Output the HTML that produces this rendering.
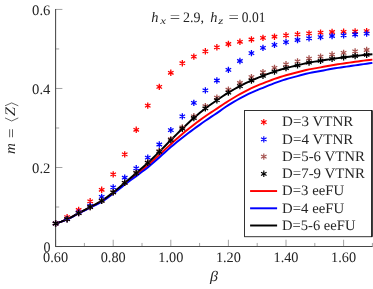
<!DOCTYPE html>
<html><head><meta charset="utf-8"><title>plot</title>
<style>
html,body{margin:0;padding:0;background:#fff;}
svg{display:block;font-family:"Liberation Serif",serif;font-size:14.5px;fill:#242424;text-rendering:geometricPrecision;}
</style></head><body>
<svg width="373" height="289" viewBox="0 0 373 289">
<rect width="373" height="289" fill="#fff"/>
<g stroke="#8c8c8c" stroke-width="0.8" fill="none">
<path d="M55.60 246.55v-6.8"/><path d="M84.40 246.55v-3.6"/><path d="M113.20 246.55v-6.8"/><path d="M142.00 246.55v-3.6"/><path d="M170.80 246.55v-6.8"/><path d="M199.60 246.55v-3.6"/><path d="M228.40 246.55v-6.8"/><path d="M257.20 246.55v-3.6"/><path d="M286.00 246.55v-6.8"/><path d="M314.80 246.55v-3.6"/><path d="M343.60 246.55v-6.8"/><path d="M372.40 246.55v-3.6"/><path d="M55.60 246.55h6.8"/><path d="M55.60 207.03h3.6"/><path d="M55.60 167.51h6.8"/><path d="M55.60 127.99h3.6"/><path d="M55.60 88.47h6.8"/><path d="M55.60 48.95h3.6"/><path d="M55.60 9.43h6.8"/>
</g>
<path d="M55.6 9.1V246.55H372.6" stroke="#484848" stroke-width="1.05" fill="none"/>
<g fill="none" stroke-width="1.95" stroke-linejoin="round">
<path d="M55.60 223.50 L58.48 222.60 L61.36 221.58 L64.24 220.47 L67.12 219.27 L70.00 217.91 L72.88 216.40 L75.76 214.82 L78.64 213.27 L81.52 211.78 L84.40 210.29 L87.28 208.80 L90.16 207.30 L93.04 205.84 L95.92 204.40 L98.80 202.91 L101.68 201.27 L104.56 199.43 L107.44 197.41 L110.32 195.28 L113.20 193.10 L116.08 190.85 L118.96 188.51 L121.84 186.14 L124.72 183.80 L127.60 181.53 L130.48 179.30 L133.36 177.07 L136.24 174.80 L139.12 172.50 L142.00 170.19 L144.88 167.84 L147.76 165.40 L150.64 162.86 L153.52 160.24 L156.40 157.57 L159.28 154.90 L162.16 152.22 L165.04 149.53 L167.92 146.84 L170.80 144.20 L173.68 141.59 L176.56 139.01 L179.44 136.47 L182.32 134.00 L185.20 131.59 L188.08 129.24 L190.96 126.95 L193.84 124.70 L196.72 122.50 L199.60 120.35 L202.48 118.25 L205.36 116.20 L208.24 114.25 L211.12 112.38 L214.00 110.52 L216.88 108.60 L219.76 106.63 L222.64 104.69 L225.52 102.80 L228.40 101.00 L231.28 99.23 L234.16 97.47 L237.04 95.74 L239.92 94.10 L242.80 92.53 L245.68 91.02 L248.56 89.58 L251.44 88.20 L254.32 86.90 L257.20 85.66 L260.08 84.46 L262.96 83.30 L265.84 82.16 L268.72 81.04 L271.60 79.97 L274.48 78.95 L277.36 77.98 L280.24 77.04 L283.12 76.15 L286.00 75.30 L288.88 74.51 L291.76 73.76 L294.64 73.04 L297.52 72.31 L300.40 71.55 L303.28 70.79 L306.16 70.05 L309.04 69.40 L311.92 68.84 L314.80 68.34 L317.68 67.86 L320.56 67.36 L323.44 66.81 L326.32 66.26 L329.20 65.71 L332.08 65.20 L334.96 64.74 L337.84 64.30 L340.72 63.88 L343.60 63.46 L346.48 63.04 L349.36 62.62 L352.24 62.20 L355.12 61.80 L358.00 61.41 L360.88 61.02 L363.76 60.64 L366.64 60.28 L369.52 59.93 L372.40 59.60" stroke="#ff0000"/>
<path d="M55.60 223.50 L58.48 222.62 L61.36 221.62 L64.24 220.53 L67.12 219.35 L70.00 218.02 L72.88 216.53 L75.76 214.97 L78.64 213.45 L81.52 211.99 L84.40 210.53 L87.28 209.07 L90.16 207.60 L93.04 206.17 L95.92 204.77 L98.80 203.31 L101.68 201.71 L104.56 199.91 L107.44 197.93 L110.32 195.83 L113.20 193.70 L116.08 191.50 L118.96 189.20 L121.84 186.88 L124.72 184.60 L127.60 182.42 L130.48 180.31 L133.36 178.22 L136.24 176.10 L139.12 173.97 L142.00 171.84 L144.88 169.67 L147.76 167.40 L150.64 165.00 L153.52 162.50 L156.40 159.95 L159.28 157.40 L162.16 154.83 L165.04 152.22 L167.92 149.63 L170.80 147.10 L173.68 144.66 L176.56 142.29 L179.44 139.98 L182.32 137.70 L185.20 135.47 L188.08 133.28 L190.96 131.13 L193.84 129.00 L196.72 126.91 L199.60 124.85 L202.48 122.82 L205.36 120.80 L208.24 118.83 L211.12 116.92 L214.00 115.03 L216.88 113.10 L219.76 111.08 L222.64 109.02 L225.52 107.00 L228.40 105.10 L231.28 103.32 L234.16 101.62 L237.04 99.98 L239.92 98.40 L242.80 96.87 L245.68 95.38 L248.56 93.95 L251.44 92.60 L254.32 91.33 L257.20 90.12 L260.08 88.95 L262.96 87.80 L265.84 86.64 L268.72 85.47 L271.60 84.32 L274.48 83.20 L277.36 82.13 L280.24 81.09 L283.12 80.11 L286.00 79.20 L288.88 78.37 L291.76 77.59 L294.64 76.84 L297.52 76.08 L300.40 75.31 L303.28 74.52 L306.16 73.77 L309.04 73.10 L311.92 72.53 L314.80 72.01 L317.68 71.51 L320.56 70.99 L323.44 70.44 L326.32 69.87 L329.20 69.32 L332.08 68.80 L334.96 68.33 L337.84 67.90 L340.72 67.48 L343.60 67.07 L346.48 66.65 L349.36 66.23 L352.24 65.81 L355.12 65.40 L358.00 64.98 L360.88 64.56 L363.76 64.14 L366.64 63.71 L369.52 63.30 L372.40 62.90" stroke="#0000ff"/>
<path d="M55.60 223.50 L58.48 222.59 L61.36 221.56 L64.24 220.42 L67.12 219.20 L70.00 217.82 L72.88 216.28 L75.76 214.67 L78.64 213.10 L81.52 211.58 L84.40 210.06 L87.28 208.53 L90.16 207.00 L93.04 205.50 L95.92 204.02 L98.80 202.48 L101.68 200.80 L104.56 198.90 L107.44 196.83 L110.32 194.64 L113.20 192.40 L116.08 190.09 L118.96 187.69 L121.84 185.24 L124.72 182.80 L127.60 180.39 L130.48 177.99 L133.36 175.56 L136.24 173.10 L139.12 170.61 L142.00 168.09 L144.88 165.52 L147.76 162.90 L150.64 160.20 L153.52 157.45 L156.40 154.64 L159.28 151.80 L162.16 148.91 L165.04 145.97 L167.92 143.02 L170.80 140.10 L173.68 137.21 L176.56 134.34 L179.44 131.49 L182.32 128.70 L185.20 125.95 L188.08 123.24 L190.96 120.58 L193.84 118.00 L196.72 115.49 L199.60 113.04 L202.48 110.67 L205.36 108.40 L208.24 106.24 L211.12 104.18 L214.00 102.18 L216.88 100.20 L219.76 98.23 L222.64 96.29 L225.52 94.40 L228.40 92.60 L231.28 90.88 L234.16 89.23 L237.04 87.63 L239.92 86.10 L242.80 84.62 L245.68 83.19 L248.56 81.81 L251.44 80.50 L254.32 79.25 L257.20 78.07 L260.08 76.92 L262.96 75.80 L265.84 74.70 L268.72 73.62 L271.60 72.59 L274.48 71.60 L277.36 70.66 L280.24 69.76 L283.12 68.91 L286.00 68.10 L288.88 67.35 L291.76 66.65 L294.64 65.98 L297.52 65.30 L300.40 64.59 L303.28 63.88 L306.16 63.20 L309.04 62.60 L311.92 62.10 L314.80 61.66 L317.68 61.24 L320.56 60.80 L323.44 60.32 L326.32 59.83 L329.20 59.35 L332.08 58.90 L334.96 58.50 L337.84 58.12 L340.72 57.76 L343.60 57.40 L346.48 57.04 L349.36 56.68 L352.24 56.33 L355.12 56.00 L358.00 55.68 L360.88 55.37 L363.76 55.08 L366.64 54.80 L369.52 54.54 L372.40 54.30" stroke="#000000"/>
</g>
<g fill="none" stroke-width="1.3" stroke-linecap="butt">
<path d="M55.60 220.30V226.70M52.83 221.90L58.37 225.10M52.83 225.10L58.37 221.90" stroke="#ff0000"/><path d="M67.12 213.90V220.30M64.35 215.50L69.89 218.70M64.35 218.70L69.89 215.50" stroke="#ff0000"/><path d="M78.64 206.80V213.20M75.87 208.40L81.41 211.60M75.87 211.60L81.41 208.40" stroke="#ff0000"/><path d="M90.16 198.10V204.50M87.39 199.70L92.93 202.90M87.39 202.90L92.93 199.70" stroke="#ff0000"/><path d="M101.68 186.60V193.00M98.91 188.20L104.45 191.40M98.91 191.40L104.45 188.20" stroke="#ff0000"/><path d="M113.20 171.20V177.60M110.43 172.80L115.97 176.00M110.43 176.00L115.97 172.80" stroke="#ff0000"/><path d="M124.72 151.20V157.60M121.95 152.80L127.49 156.00M121.95 156.00L127.49 152.80" stroke="#ff0000"/><path d="M136.24 126.60V133.00M133.47 128.20L139.01 131.40M133.47 131.40L139.01 128.20" stroke="#ff0000"/><path d="M147.76 102.40V108.80M144.99 104.00L150.53 107.20M144.99 107.20L150.53 104.00" stroke="#ff0000"/><path d="M159.28 83.70V90.10M156.51 85.30L162.05 88.50M156.51 88.50L162.05 85.30" stroke="#ff0000"/><path d="M170.80 69.60V76.00M168.03 71.20L173.57 74.40M168.03 74.40L173.57 71.20" stroke="#ff0000"/><path d="M182.32 60.00V66.40M179.55 61.60L185.09 64.80M179.55 64.80L185.09 61.60" stroke="#ff0000"/><path d="M193.84 53.40V59.80M191.07 55.00L196.61 58.20M191.07 58.20L196.61 55.00" stroke="#ff0000"/><path d="M205.36 48.10V54.50M202.59 49.70L208.13 52.90M202.59 52.90L208.13 49.70" stroke="#ff0000"/><path d="M216.88 44.10V50.50M214.11 45.70L219.65 48.90M214.11 48.90L219.65 45.70" stroke="#ff0000"/><path d="M228.40 40.80V47.20M225.63 42.40L231.17 45.60M225.63 45.60L231.17 42.40" stroke="#ff0000"/><path d="M239.92 38.60V45.00M237.15 40.20L242.69 43.40M237.15 43.40L242.69 40.20" stroke="#ff0000"/><path d="M251.44 36.30V42.70M248.67 37.90L254.21 41.10M248.67 41.10L254.21 37.90" stroke="#ff0000"/><path d="M262.96 34.70V41.10M260.19 36.30L265.73 39.50M260.19 39.50L265.73 36.30" stroke="#ff0000"/><path d="M274.48 33.50V39.90M271.71 35.10L277.25 38.30M271.71 38.30L277.25 35.10" stroke="#ff0000"/><path d="M286.00 32.10V38.50M283.23 33.70L288.77 36.90M283.23 36.90L288.77 33.70" stroke="#ff0000"/><path d="M297.52 31.10V37.50M294.75 32.70L300.29 35.90M294.75 35.90L300.29 32.70" stroke="#ff0000"/><path d="M309.04 30.20V36.60M306.27 31.80L311.81 35.00M306.27 35.00L311.81 31.80" stroke="#ff0000"/><path d="M320.56 29.40V35.80M317.79 31.00L323.33 34.20M317.79 34.20L323.33 31.00" stroke="#ff0000"/><path d="M332.08 28.80V35.20M329.31 30.40L334.85 33.60M329.31 33.60L334.85 30.40" stroke="#ff0000"/><path d="M343.60 28.60V35.00M340.83 30.20L346.37 33.40M340.83 33.40L346.37 30.20" stroke="#ff0000"/><path d="M355.12 28.30V34.70M352.35 29.90L357.89 33.10M352.35 33.10L357.89 29.90" stroke="#ff0000"/><path d="M366.64 27.90V34.30M363.87 29.50L369.41 32.70M363.87 32.70L369.41 29.50" stroke="#ff0000"/><path d="M55.60 220.30V226.70M52.83 221.90L58.37 225.10M52.83 225.10L58.37 221.90" stroke="#0000ff"/><path d="M67.12 215.80V222.20M64.35 217.40L69.89 220.60M64.35 220.60L69.89 217.40" stroke="#0000ff"/><path d="M78.64 209.30V215.70M75.87 210.90L81.41 214.10M75.87 214.10L81.41 210.90" stroke="#0000ff"/><path d="M90.16 202.60V209.00M87.39 204.20L92.93 207.40M87.39 207.40L92.93 204.20" stroke="#0000ff"/><path d="M101.68 193.70V200.10M98.91 195.30L104.45 198.50M98.91 198.50L104.45 195.30" stroke="#0000ff"/><path d="M113.20 184.20V190.60M110.43 185.80L115.97 189.00M110.43 189.00L115.97 185.80" stroke="#0000ff"/><path d="M124.72 174.50V180.90M121.95 176.10L127.49 179.30M121.95 179.30L127.49 176.10" stroke="#0000ff"/><path d="M136.24 165.10V171.50M133.47 166.70L139.01 169.90M133.47 169.90L139.01 166.70" stroke="#0000ff"/><path d="M147.76 154.40V160.80M144.99 156.00L150.53 159.20M144.99 159.20L150.53 156.00" stroke="#0000ff"/><path d="M159.28 141.30V147.70M156.51 142.90L162.05 146.10M156.51 146.10L162.05 142.90" stroke="#0000ff"/><path d="M170.80 126.90V133.30M168.03 128.50L173.57 131.70M168.03 131.70L173.57 128.50" stroke="#0000ff"/><path d="M182.32 113.20V119.60M179.55 114.80L185.09 118.00M179.55 118.00L185.09 114.80" stroke="#0000ff"/><path d="M193.84 99.70V106.10M191.07 101.30L196.61 104.50M191.07 104.50L196.61 101.30" stroke="#0000ff"/><path d="M205.36 87.20V93.60M202.59 88.80L208.13 92.00M202.59 92.00L208.13 88.80" stroke="#0000ff"/><path d="M216.88 77.30V83.70M214.11 78.90L219.65 82.10M214.11 82.10L219.65 78.90" stroke="#0000ff"/><path d="M228.40 66.70V73.10M225.63 68.30L231.17 71.50M225.63 71.50L231.17 68.30" stroke="#0000ff"/><path d="M239.92 57.80V64.20M237.15 59.40L242.69 62.60M237.15 62.60L242.69 59.40" stroke="#0000ff"/><path d="M251.44 49.90V56.30M248.67 51.50L254.21 54.70M248.67 54.70L254.21 51.50" stroke="#0000ff"/><path d="M262.96 44.70V51.10M260.19 46.30L265.73 49.50M260.19 49.50L265.73 46.30" stroke="#0000ff"/><path d="M274.48 41.70V48.10M271.71 43.30L277.25 46.50M271.71 46.50L277.25 43.30" stroke="#0000ff"/><path d="M286.00 38.90V45.30M283.23 40.50L288.77 43.70M283.23 43.70L288.77 40.50" stroke="#0000ff"/><path d="M297.52 36.80V43.20M294.75 38.40L300.29 41.60M294.75 41.60L300.29 38.40" stroke="#0000ff"/><path d="M309.04 35.10V41.50M306.27 36.70L311.81 39.90M306.27 39.90L311.81 36.70" stroke="#0000ff"/><path d="M320.56 33.90V40.30M317.79 35.50L323.33 38.70M317.79 38.70L323.33 35.50" stroke="#0000ff"/><path d="M332.08 32.80V39.20M329.31 34.40L334.85 37.60M329.31 37.60L334.85 34.40" stroke="#0000ff"/><path d="M343.60 32.10V38.50M340.83 33.70L346.37 36.90M340.83 36.90L346.37 33.70" stroke="#0000ff"/><path d="M355.12 31.30V37.70M352.35 32.90L357.89 36.10M352.35 36.10L357.89 32.90" stroke="#0000ff"/><path d="M366.64 30.40V36.80M363.87 32.00L369.41 35.20M363.87 35.20L369.41 32.00" stroke="#0000ff"/><path d="M55.60 220.30V226.70M52.83 221.90L58.37 225.10M52.83 225.10L58.37 221.90" stroke="#a5524f"/><path d="M67.12 216.00V222.40M64.35 217.60L69.89 220.80M64.35 220.80L69.89 217.60" stroke="#a5524f"/><path d="M78.64 209.90V216.30M75.87 211.50L81.41 214.70M75.87 214.70L81.41 211.50" stroke="#a5524f"/><path d="M90.16 203.80V210.20M87.39 205.40L92.93 208.60M87.39 208.60L92.93 205.40" stroke="#a5524f"/><path d="M101.68 197.60V204.00M98.91 199.20L104.45 202.40M98.91 202.40L104.45 199.20" stroke="#a5524f"/><path d="M113.20 189.20V195.60M110.43 190.80L115.97 194.00M110.43 194.00L115.97 190.80" stroke="#a5524f"/><path d="M124.72 179.60V186.00M121.95 181.20L127.49 184.40M121.95 184.40L127.49 181.20" stroke="#a5524f"/><path d="M136.24 169.70V176.10M133.47 171.30L139.01 174.50M133.47 174.50L139.01 171.30" stroke="#a5524f"/><path d="M147.76 159.25V165.65M144.99 160.85L150.53 164.05M144.99 164.05L150.53 160.85" stroke="#a5524f"/><path d="M159.28 147.95V154.35M156.51 149.55L162.05 152.75M156.51 152.75L162.05 149.55" stroke="#a5524f"/><path d="M170.80 135.97V142.37M168.03 137.57L173.57 140.77M168.03 140.77L173.57 137.57" stroke="#a5524f"/><path d="M182.32 124.30V130.70M179.55 125.90L185.09 129.10M179.55 129.10L185.09 125.90" stroke="#a5524f"/><path d="M193.84 113.10V119.50M191.07 114.70L196.61 117.90M191.07 117.90L196.61 114.70" stroke="#a5524f"/><path d="M205.36 103.00V109.40M202.59 104.60L208.13 107.80M202.59 107.80L208.13 104.60" stroke="#a5524f"/><path d="M216.88 94.45V100.85M214.11 96.05L219.65 99.25M214.11 99.25L219.65 96.05" stroke="#a5524f"/><path d="M228.40 86.50V92.90M225.63 88.10L231.17 91.30M225.63 91.30L231.17 88.10" stroke="#a5524f"/><path d="M239.92 79.75V86.15M237.15 81.35L242.69 84.55M237.15 84.55L242.69 81.35" stroke="#a5524f"/><path d="M251.44 73.90V80.30M248.67 75.50L254.21 78.70M248.67 78.70L254.21 75.50" stroke="#a5524f"/><path d="M262.96 69.05V75.45M260.19 70.65L265.73 73.85M260.19 73.85L265.73 70.65" stroke="#a5524f"/><path d="M274.48 64.70V71.10M271.71 66.30L277.25 69.50M271.71 69.50L277.25 66.30" stroke="#a5524f"/><path d="M286.00 61.10V67.50M283.23 62.70L288.77 65.90M283.23 65.90L288.77 62.70" stroke="#a5524f"/><path d="M297.52 58.20V64.60M294.75 59.80L300.29 63.00M294.75 63.00L300.29 59.80" stroke="#a5524f"/><path d="M309.04 55.35V61.75M306.27 56.95L311.81 60.15M306.27 60.15L311.81 56.95" stroke="#a5524f"/><path d="M320.56 53.40V59.80M317.79 55.00L323.33 58.20M317.79 58.20L323.33 55.00" stroke="#a5524f"/><path d="M332.08 51.35V57.75M329.31 52.95L334.85 56.15M329.31 56.15L334.85 52.95" stroke="#a5524f"/><path d="M343.60 49.70V56.10M340.83 51.30L346.37 54.50M340.83 54.50L346.37 51.30" stroke="#a5524f"/><path d="M355.12 48.15V54.55M352.35 49.75L357.89 52.95M352.35 52.95L357.89 49.75" stroke="#a5524f"/><path d="M366.64 46.80V53.20M363.87 48.40L369.41 51.60M363.87 51.60L369.41 48.40" stroke="#a5524f"/><path d="M55.60 220.30V226.70M52.83 221.90L58.37 225.10M52.83 225.10L58.37 221.90" stroke="#000000"/><path d="M67.12 216.00V222.40M64.35 217.60L69.89 220.80M64.35 220.80L69.89 217.60" stroke="#000000"/><path d="M78.64 209.90V216.30M75.87 211.50L81.41 214.70M75.87 214.70L81.41 211.50" stroke="#000000"/><path d="M90.16 203.80V210.20M87.39 205.40L92.93 208.60M87.39 208.60L92.93 205.40" stroke="#000000"/><path d="M101.68 197.60V204.00M98.91 199.20L104.45 202.40M98.91 202.40L104.45 199.20" stroke="#000000"/><path d="M113.20 189.20V195.60M110.43 190.80L115.97 194.00M110.43 194.00L115.97 190.80" stroke="#000000"/><path d="M124.72 179.60V186.00M121.95 181.20L127.49 184.40M121.95 184.40L127.49 181.20" stroke="#000000"/><path d="M136.24 169.90V176.30M133.47 171.50L139.01 174.70M133.47 174.70L139.01 171.50" stroke="#000000"/><path d="M147.76 159.70V166.10M144.99 161.30L150.53 164.50M144.99 164.50L150.53 161.30" stroke="#000000"/><path d="M159.28 148.60V155.00M156.51 150.20L162.05 153.40M156.51 153.40L162.05 150.20" stroke="#000000"/><path d="M170.80 136.90V143.30M168.03 138.50L173.57 141.70M168.03 141.70L173.57 138.50" stroke="#000000"/><path d="M182.32 125.50V131.90M179.55 127.10L185.09 130.30M179.55 130.30L185.09 127.10" stroke="#000000"/><path d="M193.84 114.80V121.20M191.07 116.40L196.61 119.60M191.07 119.60L196.61 116.40" stroke="#000000"/><path d="M205.36 105.20V111.60M202.59 106.80L208.13 110.00M202.59 110.00L208.13 106.80" stroke="#000000"/><path d="M216.88 97.00V103.40M214.11 98.60L219.65 101.80M214.11 101.80L219.65 98.60" stroke="#000000"/><path d="M228.40 89.40V95.80M225.63 91.00L231.17 94.20M225.63 94.20L231.17 91.00" stroke="#000000"/><path d="M239.92 82.90V89.30M237.15 84.50L242.69 87.70M237.15 87.70L242.69 84.50" stroke="#000000"/><path d="M251.44 77.30V83.70M248.67 78.90L254.21 82.10M248.67 82.10L254.21 78.90" stroke="#000000"/><path d="M262.96 72.60V79.00M260.19 74.20L265.73 77.40M260.19 77.40L265.73 74.20" stroke="#000000"/><path d="M274.48 68.40V74.80M271.71 70.00L277.25 73.20M271.71 73.20L277.25 70.00" stroke="#000000"/><path d="M286.00 64.90V71.30M283.23 66.50L288.77 69.70M283.23 69.70L288.77 66.50" stroke="#000000"/><path d="M297.52 62.10V68.50M294.75 63.70L300.29 66.90M294.75 66.90L300.29 63.70" stroke="#000000"/><path d="M309.04 59.40V65.80M306.27 61.00L311.81 64.20M306.27 64.20L311.81 61.00" stroke="#000000"/><path d="M320.56 57.60V64.00M317.79 59.20L323.33 62.40M317.79 62.40L323.33 59.20" stroke="#000000"/><path d="M332.08 55.70V62.10M329.31 57.30L334.85 60.50M329.31 60.50L334.85 57.30" stroke="#000000"/><path d="M343.60 54.20V60.60M340.83 55.80L346.37 59.00M340.83 59.00L346.37 55.80" stroke="#000000"/><path d="M355.12 52.80V59.20M352.35 54.40L357.89 57.60M352.35 57.60L357.89 54.40" stroke="#000000"/><path d="M366.64 51.60V58.00M363.87 53.20L369.41 56.40M363.87 56.40L369.41 53.20" stroke="#000000"/>
</g>
<g style="filter:grayscale(1)">
<text x="55.60" y="262.3" text-anchor="middle" textLength="25" lengthAdjust="spacingAndGlyphs">0.60</text><text x="113.20" y="262.3" text-anchor="middle" textLength="25" lengthAdjust="spacingAndGlyphs">0.80</text><text x="170.80" y="262.3" text-anchor="middle" textLength="25" lengthAdjust="spacingAndGlyphs">1.00</text><text x="228.40" y="262.3" text-anchor="middle" textLength="25" lengthAdjust="spacingAndGlyphs">1.20</text><text x="286.00" y="262.3" text-anchor="middle" textLength="25" lengthAdjust="spacingAndGlyphs">1.40</text><text x="343.60" y="262.3" text-anchor="middle" textLength="25" lengthAdjust="spacingAndGlyphs">1.60</text>
<text x="50.4" y="251.95" text-anchor="end" textLength="7.0" lengthAdjust="spacingAndGlyphs">0</text><text x="50.4" y="172.91" text-anchor="end" textLength="18.3" lengthAdjust="spacingAndGlyphs">0.2</text><text x="50.4" y="93.87" text-anchor="end" textLength="18.3" lengthAdjust="spacingAndGlyphs">0.4</text><text x="50.4" y="14.83" text-anchor="end" textLength="18.3" lengthAdjust="spacingAndGlyphs">0.6</text>
</g>
<rect x="244.6" y="110.5" width="127.3" height="126.25" fill="#fff" stroke="#000" stroke-width="0.8"/><path d="M372 110.5V236.75" stroke="#000" stroke-width="1.3" fill="none"/>
<g fill="none" stroke-width="1.15">
<path d="M263.80 118.90V125.30M261.03 120.50L266.57 123.70M261.03 123.70L266.57 120.50" stroke="#ff0000"/><path d="M263.80 136.15V142.55M261.03 137.75L266.57 140.95M261.03 140.95L266.57 137.75" stroke="#0000ff"/><path d="M263.80 153.40V159.80M261.03 155.00L266.57 158.20M261.03 158.20L266.57 155.00" stroke="#a5524f"/><path d="M263.80 170.60V177.00M261.03 172.20L266.57 175.40M261.03 175.40L266.57 172.20" stroke="#000000"/>
</g>
<path d="M250.1 191.05H277.1" stroke="#ff0000" stroke-width="1.95" fill="none"/><path d="M250.1 208.30H277.1" stroke="#0000ff" stroke-width="1.95" fill="none"/><path d="M250.1 225.50H277.1" stroke="#000000" stroke-width="1.95" fill="none"/>
<g style="filter:grayscale(1)">
<text x="282.1" y="126.40" textLength="71.2" lengthAdjust="spacingAndGlyphs">D=3 VTNR</text><text x="282.1" y="143.65" textLength="71.2" lengthAdjust="spacingAndGlyphs">D=4 VTNR</text><text x="282.1" y="160.90" textLength="82.9" lengthAdjust="spacingAndGlyphs">D=5-6 VTNR</text><text x="282.1" y="178.10" textLength="82.9" lengthAdjust="spacingAndGlyphs">D=7-9 VTNR</text><text x="282.1" y="195.35" textLength="62.0" lengthAdjust="spacingAndGlyphs">D=3 eeFU</text><text x="282.1" y="212.60" textLength="62.0" lengthAdjust="spacingAndGlyphs">D=4 eeFU</text><text x="282.1" y="229.80" textLength="73.3" lengthAdjust="spacingAndGlyphs">D=5-6 eeFU</text>
</g>
<g id="title" style="filter:grayscale(1)">
<text x="151.3" y="21.9" font-style="italic" textLength="7.2" lengthAdjust="spacingAndGlyphs">h</text>
<text x="160.2" y="23.8" font-style="italic" font-size="10" textLength="5.8" lengthAdjust="spacingAndGlyphs">x</text>
<text x="169.8" y="21.9" textLength="10.4" lengthAdjust="spacingAndGlyphs">=</text>
<text x="183" y="21.9" textLength="21" lengthAdjust="spacingAndGlyphs">2.9,</text>
<text x="210.2" y="21.9" font-style="italic" textLength="7.2" lengthAdjust="spacingAndGlyphs">h</text>
<text x="218.2" y="23.8" font-style="italic" font-size="10" textLength="5" lengthAdjust="spacingAndGlyphs">z</text>
<text x="228.5" y="21.9" textLength="10.4" lengthAdjust="spacingAndGlyphs">=</text>
<text x="241.8" y="21.9" textLength="23.6" lengthAdjust="spacingAndGlyphs">0.01</text>
</g>
<g transform="translate(15 154) rotate(-90)" style="filter:grayscale(1)">
<text x="0" y="0" font-style="italic" textLength="10.9" lengthAdjust="spacingAndGlyphs">m</text>
<text x="16" y="1.4" textLength="9.6" lengthAdjust="spacingAndGlyphs">=</text>
<path d="M36.1 -10L33 -3.35L36.1 3.3M48.2 -10L51.1 -3.35L48.2 3.3" fill="none" stroke="#000" stroke-width="0.6"/>
<text x="38" y="0" font-style="italic" textLength="9" lengthAdjust="spacingAndGlyphs">Z</text>
</g>
<g style="filter:grayscale(1)"><text x="210" y="281" font-style="italic" textLength="8" lengthAdjust="spacingAndGlyphs">&#946;</text></g>
</svg>
</body></html>
